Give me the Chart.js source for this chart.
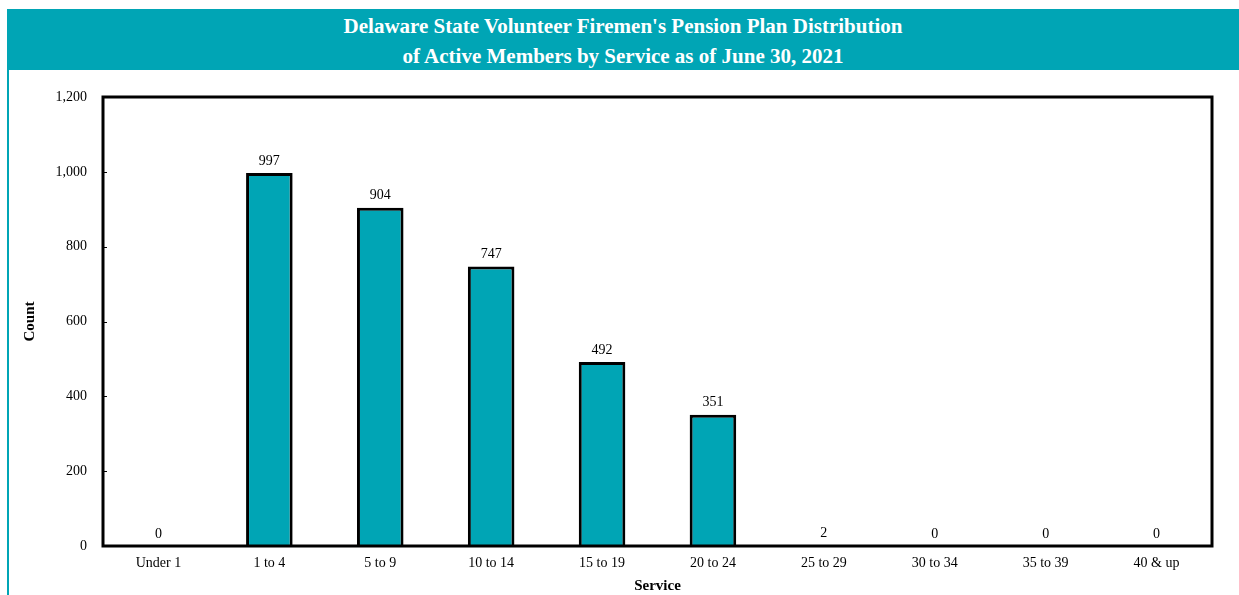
<!DOCTYPE html>
<html>
<head>
<meta charset="utf-8">
<script src="https://cdn.jsdelivr.net/npm/chart.js@4"></script>
<style>
    html, body {
        margin: 0;
        padding: 0;
        background: #ffffff;
    }

    #header {
        position: absolute;
        left: 7px;
        top: 9px;
        width: 1232px;
        height: 61px;
        background: #00a5b5;
        color: #ffffff;
        font-family: "Liberation Serif", "Times New Roman", serif;
        font-weight: bold;
        font-size: 21px;
        line-height: 30px;
        text-align: center;
        padding-top: 2px;
        box-sizing: border-box;
    }

    #frame {
        position: absolute;
        left: 7px;
        top: 70px;
        width: 1232px;
        height: 525px;
        border-left: 2px solid #00a5b5;
        box-sizing: border-box;
    }

    #chartBox {
        position: absolute;
        left: 2px;
        top: 0;
        width: 1230px;
        height: 525px;
    }
</style>
</head>
<body>

<div id="header">
    Delaware State Volunteer Firemen's Pension Plan Distribution<br>
    of Active Members by Service as of June 30, 2021
</div>

<div id="frame">
    <div id="chartBox">
        <canvas id="serviceChart"></canvas>
    </div>
</div>

<script>
"use strict";

/* ---------- data ---------- */

const serviceLabels = [
    "Under 1", "1 to 4", "5 to 9", "10 to 14", "15 to 19",
    "20 to 24", "25 to 29", "30 to 34", "35 to 39", "40 & up"
];

const memberCounts = [0, 997, 904, 747, 492, 351, 2, 0, 0, 0];

const yTicks = [0, 200, 400, 600, 800, 1000, 1200];


/* ---------- helpers ---------- */

const TEAL = "#00a5b5";
const SERIF = "'Liberation Serif', 'Times New Roman', serif";

function formatCount(v) {
    return Number(v).toLocaleString("en-US");
}


/* ---------- plugins ---------- */

// black frame around the plot + short inward ticks on the y axis
const frameBorder = {
    id: "frameBorder",
    afterDatasetsDraw(chart) {
        const ctx = chart.ctx;
        const a = chart.chartArea;
        const y = chart.scales.y;

        ctx.save();
        ctx.strokeStyle = "#000000";
        ctx.lineWidth = 3;
        ctx.strokeRect(a.left, a.top, a.right - a.left, a.bottom - a.top);

        ctx.lineWidth = 1;
        yTicks.forEach((t) => {
            const py = Math.round(y.getPixelForValue(t)) + 0.5;
            ctx.beginPath();
            ctx.moveTo(a.left, py);
            ctx.lineTo(a.left + 4, py);
            ctx.stroke();
        });
        ctx.restore();
    }
};

// value labels above each bar
const barValues = {
    id: "barValues",
    afterDatasetsDraw(chart) {
        const ctx = chart.ctx;
        const meta = chart.getDatasetMeta(0);

        ctx.save();
        ctx.fillStyle = "#000000";
        ctx.font = "14px " + SERIF;
        ctx.textAlign = "center";
        ctx.textBaseline = "bottom";

        meta.data.forEach((bar, i) => {
            ctx.fillText(formatCount(memberCounts[i]), bar.x, bar.y - 5);
        });
        ctx.restore();
    }
};


/* ---------- chart ---------- */

new Chart(document.getElementById("serviceChart"), {
    type: "bar",
    data: {
        labels: serviceLabels,
        datasets: [
            {
                data: memberCounts,
                backgroundColor: TEAL,
                borderColor: "#000000",
                borderWidth: 3,
                borderSkipped: "bottom",
                categoryPercentage: 1.0,
                barPercentage: 0.42
            }
        ]
    },
    options: {
        responsive: true,
        maintainAspectRatio: false,
        animation: false,
        layout: {
            padding: { top: 27, right: 29, left: 0, bottom: 0 }
        },
        plugins: {
            legend: { display: false },
            tooltip: { enabled: false }
        },
        scales: {
            x: {
                grid: { display: false, drawTicks: false },
                border: { display: false },
                ticks: {
                    color: "#000000",
                    font: { family: SERIF, size: 14 },
                    padding: 9,
                    maxRotation: 0
                },
                title: {
                    display: true,
                    text: "Service",
                    color: "#000000",
                    font: { family: SERIF, size: 15, weight: "bold" },
                    padding: { top: 1, bottom: 0 }
                },
                afterFit(scale) {
                    scale.height = 49;
                }
            },
            y: {
                min: 0,
                max: 1200,
                grid: { display: false, drawTicks: false },
                border: { display: false },
                afterBuildTicks(scale) {
                    scale.ticks = yTicks.map((v) => ({ value: v }));
                },
                ticks: {
                    color: "#000000",
                    font: { family: SERIF, size: 14 },
                    padding: 16,
                    callback: (v) => formatCount(v)
                },
                title: {
                    display: true,
                    text: "Count",
                    color: "#000000",
                    font: { family: SERIF, size: 15, weight: "bold" },
                    padding: { top: 10, bottom: 0 }
                },
                afterFit(scale) {
                    scale.width = 92;
                }
            }
        }
    },
    plugins: [frameBorder, barValues]
});
</script>
</body>
</html>
